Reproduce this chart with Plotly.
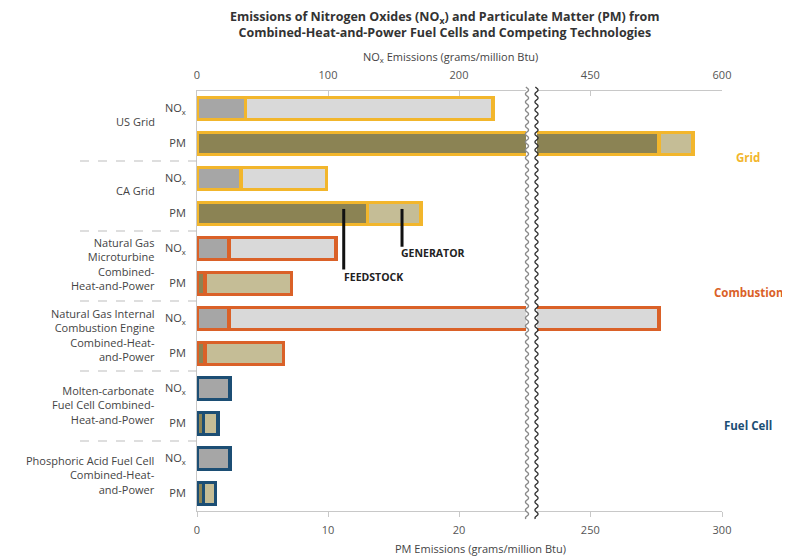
import math
import plotly.graph_objects as go

# ---------------- data ----------------
groups = [
    "US Grid",
    "CA Grid",
    "Natural Gas<br>Microturbine<br>Combined-<br>Heat-and-Power",
    "Natural Gas Internal<br>Combustion Engine<br>Combined-Heat-<br>and-Power",
    "Molten-carbonate<br>Fuel Cell Combined-<br>Heat-and-Power",
    "Phosphoric Acid Fuel Cell<br>Combined-Heat-<br>and-Power",
]
group_types = ["Grid", "Grid", "Combustion", "Combustion", "Fuel Cell", "Fuel Cell"]
row_labels = ["NO<sub>x</sub>", "PM"]

nox_feedstock = [37, 33.5, 24.5, 24.5, 25, 25]
nox_generator = [189, 65.5, 81.5, 503.5, None, None]
pm_feedstock = [276, 13.0, 0.6, 0.6, 0.5, 0.5]
pm_generator = [13, 4.1, 6.6, 6.0, 1.1, 0.9]

nox_ticks_left = [0, 100, 200]
nox_ticks_right = [450, 600]
pm_ticks_left = [0, 10, 20]
pm_ticks_right = [250, 300]

type_colors = {"Grid": "#F2B62C", "Combustion": "#DA6128", "Fuel Cell": "#1C4E74"}
seg_colors = {"nox_feed": "#A6A6A6", "nox_gen": "#D9D9D9",
              "pm_feed": "#8B8354", "pm_gen": "#C5BD96"}

# ---------------- layout geometry (page pixel coordinates) ----------------
OFF = 8                      # default body margin of the html page
PAGE_W, PAGE_H = 790, 556
W, H = PAGE_W - OFF, PAGE_H - OFF
L, R, T, B = 197, 722, 91, 511   # plot area in page pixels
PW, PH = R - L, B - T
brk_l, brk_r = 526, 537


def px2x(px):
    return (px - L) / PW


def px2y(py):
    return (B - py) / PH


FONT = "Open Sans"
TXT = "#444444"

nox_rows = [2 * i for i in range(len(groups))]
pm_rows = [2 * i + 1 for i in range(len(groups))]
edge = [type_colors[t] for t in group_types]

fig = go.Figure()
BW = 0.62
LW = 3.5

for side, (xn, xp) in {"L": ("x3", "x"), "R": ("x4", "x2")}.items():
    fig.add_trace(go.Bar(y=nox_rows, x=nox_feedstock, orientation="h", xaxis=xn, yaxis="y",
                         width=BW, marker=dict(color=seg_colors["nox_feed"], line=dict(color=edge, width=LW)),
                         showlegend=False, hoverinfo="skip"))
    fig.add_trace(go.Bar(y=nox_rows, x=nox_generator, orientation="h", xaxis=xn, yaxis="y",
                         width=BW, marker=dict(color=seg_colors["nox_gen"], line=dict(color=edge, width=LW)),
                         showlegend=False, hoverinfo="skip"))
    fig.add_trace(go.Bar(y=pm_rows, x=pm_feedstock, orientation="h", xaxis=xp, yaxis="y",
                         width=BW, marker=dict(color=seg_colors["pm_feed"], line=dict(color=edge, width=LW)),
                         showlegend=False, hoverinfo="skip"))
    fig.add_trace(go.Bar(y=pm_rows, x=pm_generator, orientation="h", xaxis=xp, yaxis="y",
                         width=BW, marker=dict(color=seg_colors["pm_gen"], line=dict(color=edge, width=LW)),
                         showlegend=False, hoverinfo="skip"))

# axis ranges from pixel geometry (left: 131 px per 100 NOx / 10 PM; right: 131 px per 150 NOx / 50 PM)
s_px = 131.0
d_left = px2x(brk_l)
d_right = px2x(brk_r)
nox_left_max = (brk_l - L) / s_px * 100
pm_left_max = (brk_l - L) / s_px * 10
nox_right_min = 450 - (590 - brk_r) / s_px * 150
pm_right_min = 250 - (590 - brk_r) / s_px * 50

axcommon = dict(showgrid=False, zeroline=False, showline=True, linecolor="#C8C8C8", linewidth=1,
                tickcolor="#C8C8C8", ticklen=5, tickfont=dict(family=FONT, size=11, color="#555555"),
                fixedrange=True)

fig.update_layout(
    width=W, height=H,
    margin=dict(l=L - OFF, r=PAGE_W - R, t=T - OFF, b=PAGE_H - B, pad=0),
    paper_bgcolor="white", plot_bgcolor="white",
    barmode="stack",
    showlegend=False,
    font=dict(family=FONT, color=TXT),
    xaxis=dict(domain=[0, d_left], range=[0, pm_left_max], anchor="y", side="bottom",
               tickvals=pm_ticks_left, ticks="outside", ticklabelstandoff=4, **axcommon),
    xaxis2=dict(domain=[d_right, 1], range=[pm_right_min, 300], anchor="y", side="bottom",
                tickvals=pm_ticks_right, ticks="outside", ticklabelstandoff=4, **axcommon),
    xaxis3=dict(overlaying="x", range=[0, nox_left_max], anchor="y", side="top",
                tickvals=nox_ticks_left, ticks="inside", ticklabelstandoff=7, **axcommon),
    xaxis4=dict(overlaying="x2", range=[nox_right_min, 600], anchor="y", side="top",
                tickvals=nox_ticks_right, ticks="inside", ticklabelstandoff=7, **axcommon),
    yaxis=dict(domain=[0, 1], range=[11.5, -0.5], anchor="x", showgrid=False, zeroline=False,
               showline=True, linecolor="#C8C8C8", ticks="", ticklabelstandoff=8,
               tickvals=list(range(2 * len(groups))), ticktext=row_labels * len(groups),
               tickfont=dict(family=FONT, size=11, color=TXT), fixedrange=True),
)

annotations = []
# chart title
annotations.append(dict(text="<b>Emissions of Nitrogen Oxides (NO<sub>x</sub>) and Particulate Matter (PM) from<br>"
                             "Combined-Heat-and-Power Fuel Cells and Competing Technologies</b>",
                        xref="paper", yref="paper", x=px2x(445), y=px2y(25), showarrow=False,
                        xanchor="center", yanchor="middle", align="center",
                        font=dict(family=FONT, size=12.5, color="#333333")))
# axis titles
annotations.append(dict(text="NO<sub>x</sub> Emissions (grams/million Btu)", xref="paper", yref="paper",
                        x=px2x(450), y=px2y(57), showarrow=False, xanchor="center", yanchor="middle",
                        font=dict(family=FONT, size=11, color=TXT)))
annotations.append(dict(text="PM Emissions (grams/million Btu)", xref="paper", yref="paper",
                        x=px2x(480), y=px2y(548), showarrow=False, xanchor="center", yanchor="middle",
                        font=dict(family=FONT, size=11, color=TXT)))
# group labels
label_shift = [5, 6, 2, 1, 1, 1]
for i, g in enumerate(groups):
    annotations.append(dict(text=g, xref="paper", yref="y", x=px2x(157), y=2 * i + 0.5, yshift=label_shift[i],
                            showarrow=False, xanchor="right", yanchor="middle", align="right",
                            font=dict(family=FONT, size=11, color=TXT)))
# category type labels on the right
type_pos = {"Grid": 1.39, "Combustion": 5.27, "Fuel Cell": 9.07}
for t, yv in type_pos.items():
    annotations.append(dict(text="<b>" + t + "</b>", xref="paper", yref="y", x=px2x(748), y=yv,
                            showarrow=False, xanchor="center", yanchor="middle",
                            font=dict(family=FONT, size=11.5, color=type_colors[t])))
# callouts
annotations.append(dict(text="<b>FEEDSTOCK</b>", xref="x", yref="y", x=11.05, y=4.81, showarrow=False,
                        xanchor="left", yanchor="middle", font=dict(family=FONT, size=10.5, color="#222222")))
annotations.append(dict(text="<b>GENERATOR</b>", xref="x", yref="y", x=15.45, y=4.13, showarrow=False,
                        xanchor="left", yanchor="middle", font=dict(family=FONT, size=10.5, color="#222222")))
fig.update_layout(annotations=annotations)

shapes = []
# callout lines
shapes.append(dict(type="line", xref="x", yref="y", x0=11.2, x1=11.2, y0=2.87, y1=4.6,
                   line=dict(color="#111111", width=3)))
shapes.append(dict(type="line", xref="x", yref="y", x0=15.65, x1=15.65, y0=2.87, y1=3.95,
                   line=dict(color="#111111", width=3)))
# dashed separators between groups
for k in range(len(groups) - 1):
    shapes.append(dict(type="line", xref="paper", yref="y", x0=px2x(80), x1=0, y0=2 * k + 1.5, y1=2 * k + 1.5,
                       line=dict(color="#BDBDBD", width=1, dash="dash")))


# wavy break lines
def wave_path(xc):
    pts = []
    py = 87.0
    while py <= 519.0:
        xx = xc + 1.6 * math.sin(2 * math.pi * py / 8.0)
        pts.append((px2x(xx), px2y(py)))
        py += 1.0
    return "M " + " L ".join(f"{a:.5f},{b:.5f}" for a, b in pts)


shapes.append(dict(type="path", xref="paper", yref="paper", path=wave_path(brk_l + 1),
                   line=dict(color="#8A8A8A", width=1.3)))
shapes.append(dict(type="path", xref="paper", yref="paper", path=wave_path(brk_r - 0.5),
                   line=dict(color="#333333", width=1.3)))
fig.update_layout(shapes=shapes)

fig.write_html("out.html")
